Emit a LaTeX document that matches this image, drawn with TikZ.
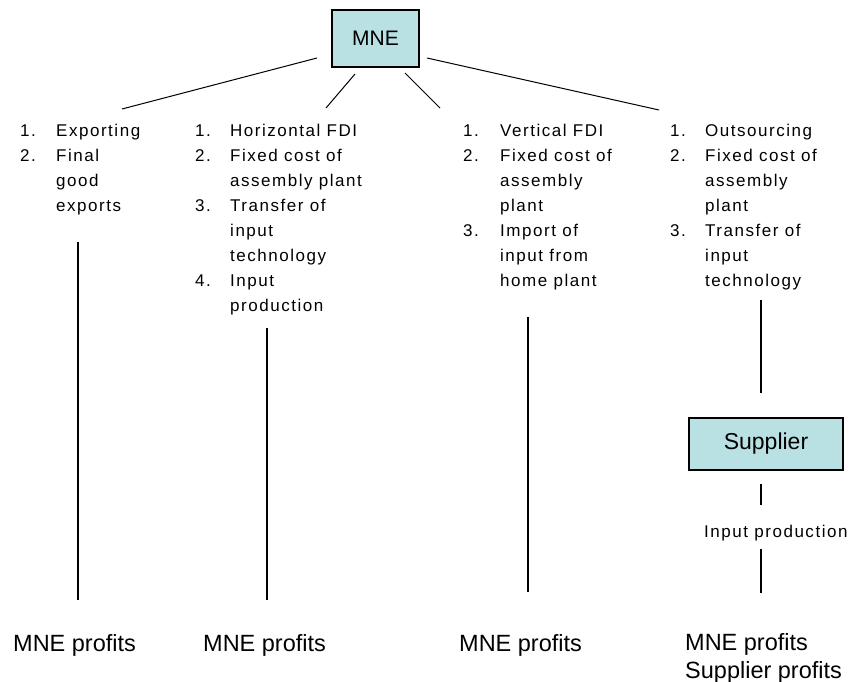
\documentclass[tikz,border=0pt]{standalone}
\usepackage{fontspec}
\setmainfont{Liberation Sans}
\newfontfamily\listfont{Liberation Sans}[LetterSpace=9]
\usepackage{array}
\definecolor{boxfill}{HTML}{B9E0E3}
\begin{document}
\begin{tikzpicture}[x=1pt,y=-1pt,
  firmbox/.style={draw=black,line width=1.3pt,fill=boxfill,inner sep=0pt},
  listtext/.style={inner sep=0pt,anchor=base west,font=\listfont\fontsize{17}{25}\selectfont},
  profit/.style={inner sep=0pt,anchor=base west,font=\fontsize{23.5}{28}\selectfont},
  diag/.style={line width=1pt,black},
  vline/.style={line width=1.3pt,black}]
\useasboundingbox (0,0) rectangle (855,682);
% boxes
\node[firmbox,minimum width=87pt,minimum height=57pt,font=\fontsize{21}{24}\selectfont] (mne) at (375.5,38.5) {MNE};
\node[firmbox,minimum width=154pt,minimum height=52pt,font=\fontsize{23}{26}\selectfont] (sup) at (766,444) {Supplier};
% lists
\node[listtext] (c1) at (20,137) {\begin{tabular}[t]{@{}p{36pt}@{}l@{}}1.&Exporting\\2.&Final\\&good\\&exports\end{tabular}};
\node[listtext] (c2) at (195,137) {\begin{tabular}[t]{@{}p{35pt}@{}l@{}}1.&Horizontal FDI\\2.&Fixed cost of\\&assembly plant\\3.&Transfer of\\&input\\&technology\\4.&Input\\&production\end{tabular}};
\node[listtext] (c3) at (463,137) {\begin{tabular}[t]{@{}p{37pt}@{}l@{}}1.&Vertical FDI\\2.&Fixed cost of\\&assembly\\&plant\\3.&Import of\\&input from\\&home plant\end{tabular}};
\node[listtext] (c4) at (670,137) {\begin{tabular}[t]{@{}p{35pt}@{}l@{}}1.&Outsourcing\\2.&Fixed cost of\\&assembly\\&plant\\3.&Transfer of\\&input\\&technology\end{tabular}};
\node[listtext] (inp) at (704,537) {Input production};
% profits
\node[profit] (p1) at (13,651.5) {MNE profits};
\node[profit] (p2) at (203,651.5) {MNE profits};
\node[profit] (p3) at (459,651.5) {MNE profits};
\node[profit,align=left] (p4) at (685,678) {MNE profits\\Supplier profits};
% coordinates for connector ends
\coordinate (d1a) at (317,58); \coordinate (d1b) at (122,109);
\coordinate (d2a) at (355,74); \coordinate (d2b) at (326,108);
\coordinate (d3a) at (405,73); \coordinate (d3b) at (440,108);
\coordinate (d4a) at (427,58); \coordinate (d4b) at (659,110);
\coordinate (v1a) at (78,242);  \coordinate (v1b) at (78,600);
\coordinate (v2a) at (267,328); \coordinate (v2b) at (267,600);
\coordinate (v3a) at (528,317); \coordinate (v3b) at (528,592);
\coordinate (v4a) at (761,300); \coordinate (v4b) at (761,393);
\coordinate (v5a) at (761,484); \coordinate (v5b) at (761,505);
\coordinate (v6a) at (761,549); \coordinate (v6b) at (761,593);
% connectors
\draw[diag] (d1a) -- (d1b);
\draw[diag] (d2a) -- (d2b);
\draw[diag] (d3a) -- (d3b);
\draw[diag] (d4a) -- (d4b);
\draw[vline] (v1a) -- (v1b);
\draw[vline] (v2a) -- (v2b);
\draw[vline] (v3a) -- (v3b);
\draw[vline] (v4a) -- (v4b);
\draw[vline] (v5a) -- (v5b);
\draw[vline] (v6a) -- (v6b);
\end{tikzpicture}
\end{document}
